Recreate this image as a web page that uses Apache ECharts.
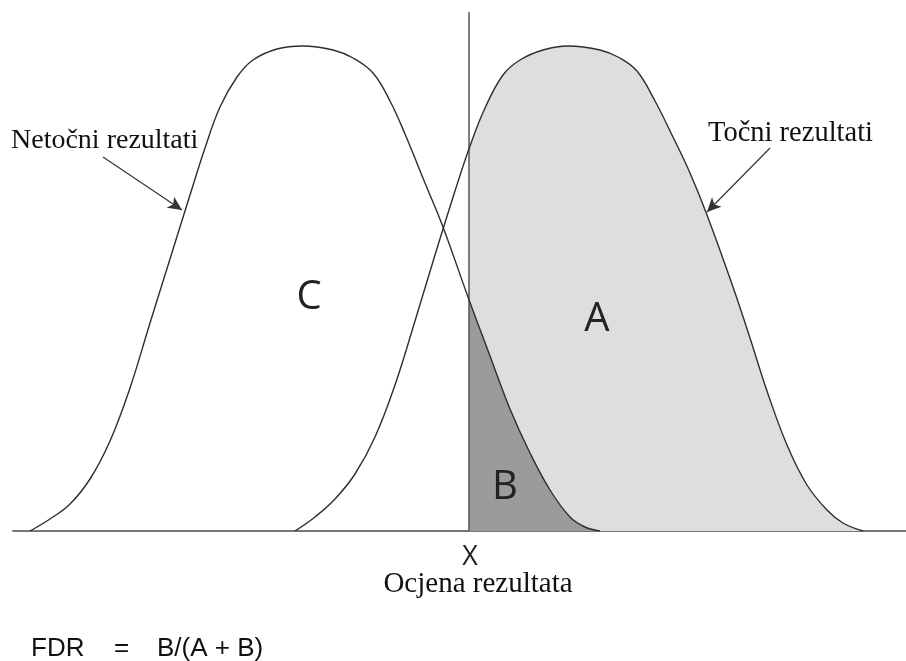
<!DOCTYPE html>
<html><head><meta charset="utf-8">
<script src="https://cdn.jsdelivr.net/npm/echarts@6/dist/echarts.min.js"></script>
<style>html,body{margin:0;padding:0;background:#fff}#c{width:906px;height:661px}</style>
</head><body><div id="c"></div>
<script>
// Score axis positions and curve heights
const wrongX = [30, 50, 70, 90, 110, 130, 150, 170, 190, 205, 220, 237, 253, 277, 303, 333, 353, 373, 390, 405, 425, 443, 468, 490, 510, 530, 550, 570, 585, 600];
const wrongY = [0, 12, 27, 52, 90, 143, 208, 272, 336, 383, 424, 454, 471, 482, 485, 481, 473, 458, 430, 397, 348, 304, 234, 175, 122, 78, 41, 14, 4, 0];
const rightX = [295, 315, 335, 355, 375, 395, 415, 435, 455, 470, 485, 503, 520, 543, 568, 600, 620, 637, 655, 672, 690, 707, 733, 750, 767, 787, 807, 827, 843, 863];
const rightY = [0, 14, 32, 57, 94, 146, 210, 276, 340, 385, 423, 456, 471, 481, 485, 481, 473, 460, 430, 396, 358, 316, 244, 193, 140, 86, 46, 21, 8, 0];
const threshold = 469;
const seriesNames = ['Netočni rezultati', 'Točni rezultati'];
const regionLabels = ['C', 'A', 'B'];
const axisTitle = 'Ocjena rezultata';
const thresholdLabel = 'X';

const wrongData = wrongX.map((x, i) => [x, wrongY[i]]);
const rightData = rightX.map((x, i) => [x, rightY[i]]);

const chart = echarts.init(document.getElementById('c'), null, {renderer: 'canvas'});
const hidden = {show: false};
const lineCol = '#2e2e2e';
const serif = '"Liberation Serif", "DejaVu Serif", serif';
const sans = '"Open Sans", "Noto Sans", sans-serif';
const arial = '"Liberation Sans", Arial, sans-serif';
const SM = 0.4;

chart.setOption({
  animation: false,
  backgroundColor: '#fff',
  grid: [
    {left: 13, right: 0, top: 12, bottom: 130},
    {left: threshold, right: 0, top: 12, bottom: 130}
  ],
  xAxis: [
    {type: 'value', gridIndex: 0, min: 13, max: 906, axisLine: {show: true, onZero: false, lineStyle: {color: '#777', width: 2}}, axisTick: hidden, axisLabel: hidden, splitLine: hidden},
    {type: 'value', gridIndex: 1, min: threshold, max: 906, axisLine: hidden, axisTick: hidden, axisLabel: hidden, splitLine: hidden}
  ],
  yAxis: [
    {type: 'value', gridIndex: 0, min: 0, max: 519, axisLine: hidden, axisTick: hidden, axisLabel: hidden, splitLine: hidden},
    {type: 'value', gridIndex: 1, min: 0, max: 519, axisLine: hidden, axisTick: hidden, axisLabel: hidden, splitLine: hidden}
  ],
  series: [
    {type: 'line', xAxisIndex: 1, yAxisIndex: 1, data: rightData, smooth: SM, symbol: 'none', clip: true, z: 1,
      lineStyle: {width: 0}, areaStyle: {color: '#dedede', opacity: 1}},
    {type: 'line', xAxisIndex: 1, yAxisIndex: 1, data: wrongData, smooth: SM, symbol: 'none', clip: true, z: 2,
      lineStyle: {width: 0}, areaStyle: {color: '#9b9b9b', opacity: 1}},
    {name: seriesNames[0], type: 'line', xAxisIndex: 0, yAxisIndex: 0, data: wrongData, smooth: SM, symbol: 'none', z: 5,
      lineStyle: {color: lineCol, width: 1.4},
      markLine: {silent: true, symbol: ['none', 'none'], label: {show: false},
        lineStyle: {color: '#555', width: 1.5, type: 'solid'},
        data: [{xAxis: threshold}]}},
    {name: seriesNames[1], type: 'line', xAxisIndex: 0, yAxisIndex: 0, data: rightData, smooth: SM, symbol: 'none', z: 5,
      lineStyle: {color: lineCol, width: 1.4},
      markLine: {silent: true, symbol: ['none', 'arrow'], symbolSize: [10, 14], label: {show: false},
        lineStyle: {color: '#333', width: 1.2, type: 'solid'},
        data: [
          [{coord: [103, 374]}, {coord: [182, 321]}],
          [{coord: [770, 383]}, {coord: [707, 319]}]
        ]}}
  ],
  graphic: [
    {type: 'text', z: 100, x: 11, y: 141, style: {text: seriesNames[0], font: '28px ' + serif, fill: '#111', textAlign: 'left', textVerticalAlign: 'middle'}},
    {type: 'text', z: 100, x: 708, y: 134, style: {text: seriesNames[1], font: '28.5px ' + serif, fill: '#111', textAlign: 'left', textVerticalAlign: 'middle'}},
    {type: 'text', z: 100, x: 309, y: 298, style: {text: regionLabels[0], font: '40px ' + sans, fill: '#222', textAlign: 'center', textVerticalAlign: 'middle'}},
    {type: 'text', z: 100, x: 597, y: 320, style: {text: regionLabels[1], font: '40px ' + sans, fill: '#222', textAlign: 'center', textVerticalAlign: 'middle'}},
    {type: 'text', z: 100, x: 505, y: 488, style: {text: regionLabels[2], font: '40px ' + sans, fill: '#222', textAlign: 'center', textVerticalAlign: 'middle'}},
    {type: 'text', z: 100, x: 470, y: 557, style: {text: thresholdLabel, font: '27px ' + sans, fill: '#222', textAlign: 'center', textVerticalAlign: 'middle'}},
    {type: 'text', z: 100, x: 478, y: 584, style: {text: axisTitle, font: '29px ' + serif, fill: '#111', textAlign: 'center', textVerticalAlign: 'middle'}},
    {type: 'text', z: 100, x: 31, y: 649, style: {text: 'FDR', font: '26px ' + arial, fill: '#111', textAlign: 'left', textVerticalAlign: 'middle'}},
    {type: 'text', z: 100, x: 114, y: 649, style: {text: '=', font: '26px ' + arial, fill: '#111', textAlign: 'left', textVerticalAlign: 'middle'}},
    {type: 'text', z: 100, x: 157, y: 649, style: {text: 'B/(A + B)', font: '26px ' + arial, fill: '#111', textAlign: 'left', textVerticalAlign: 'middle'}}
  ]
});
</script></body></html>
